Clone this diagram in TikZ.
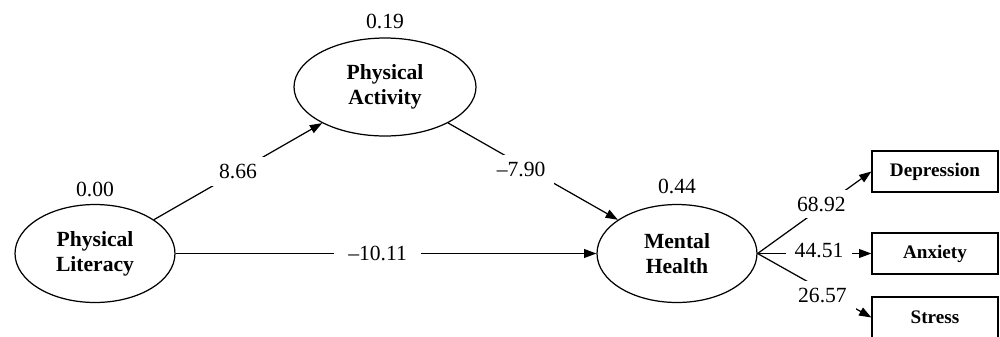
\documentclass[tikz,border=0pt]{standalone}
\usepackage{fontspec}
\setmainfont{Liberation Serif}
\usetikzlibrary{shapes.geometric,arrows.meta}
\begin{document}
\begin{tikzpicture}[x=0.02cm,y=-0.02cm,
  lat/.style={draw,ellipse,line width=0.7pt,minimum width=3.2cm,minimum height=1.96cm,inner sep=0pt,align=center,font=\fontsize{12.3}{14.2}\selectfont\bfseries},
  obs/.style={draw,rectangle,line width=0.7pt,minimum width=2.52cm,minimum height=0.82cm,inner sep=0pt,font=\fontsize{10.9}{13}\selectfont\bfseries},
  num/.style={font=\fontsize{12.3}{14}\selectfont,inner sep=0pt},
  lbl/.style={num,fill=white,inner xsep=5pt,inner ysep=4pt},
  conn/.style={line width=0.7pt,-{Triangle[length=7pt,width=5pt]}}]
\useasboundingbox (0,0) rectangle (1000,336);
\node[lat] (pl) at (95,253.5) {Physical\\Literacy};
\node[lat,minimum width=3.64cm] (pa) at (385,87) {Physical\\Activity};
\node[lat] (mh) at (677,253.5) {Mental\\Health};
\node[obs] (dep) at (935,171.5) {Depression};
\node[obs] (anx) at (935,253.5) {Anxiety};
\node[obs] (str) at (935,317.5) {Stress};
\node[num,anchor=base] (r1) at (95,196) {0.00};
\node[num,anchor=base] (r2) at (385,28) {0.19};
\node[num,anchor=base] (r3) at (677,193) {0.44};
\draw[conn] (pl) -- node[lbl,pos=0.5] (e1) {8.66} (pa);
\draw[conn] (pa) -- node[lbl,pos=0.43,yshift=-0.1cm] (e2) {–7.90} (mh);
\draw[conn] (pl) -- node[lbl,pos=0.48,inner xsep=8pt] (e3) {–10.11} (mh);
\draw[conn] (mh.east) -- node[lbl,pos=0.56,yshift=0.07cm] (e4) {68.92} (dep.west);
\draw[conn] (mh.east) -- node[lbl,pos=0.54,yshift=0.05cm] (e5) {44.51} (anx.west);
\draw[conn] (mh.east) -- node[lbl,pos=0.57,yshift=-0.11cm] (e6) {26.57} (str.west);
\end{tikzpicture}
\end{document}
